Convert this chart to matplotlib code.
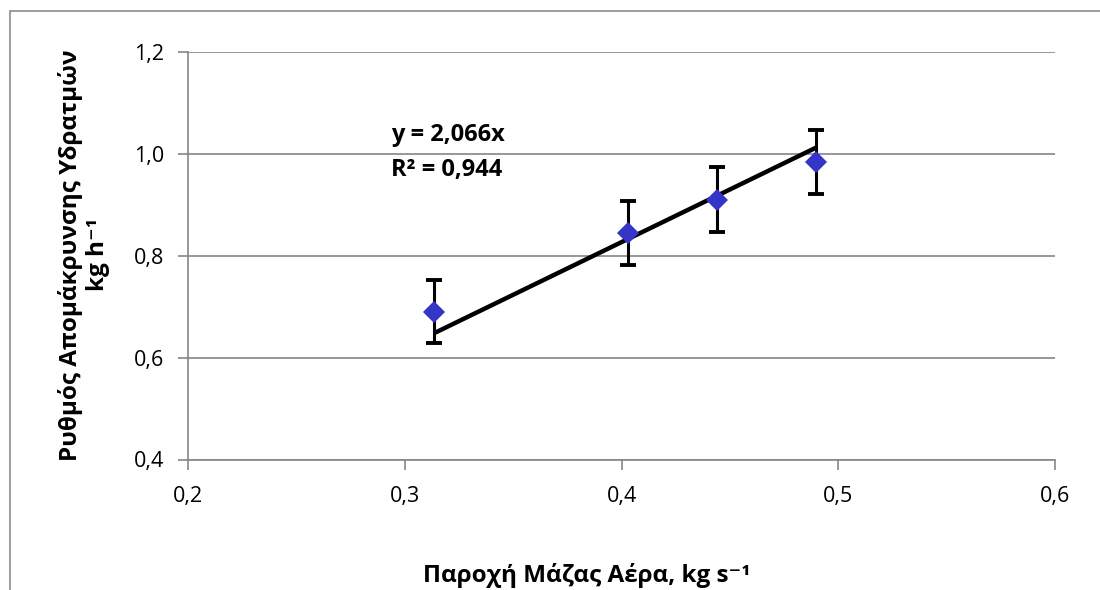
import matplotlib
matplotlib.use('Agg')
import matplotlib.pyplot as plt
import matplotlib.patches as patches
from matplotlib.ticker import FuncFormatter
import numpy as np

plt.rcParams['font.family'] = ['Open Sans', 'DejaVu Sans']

# data
air_flow = [0.3137, 0.403, 0.444, 0.4897]      # kg/s
removal_rate = [0.690, 0.845, 0.910, 0.983]     # kg/h
err = [0.062, 0.0625, 0.063, 0.063]
slope = 2.066
r2 = 0.944

x_ticks = [0.2, 0.3, 0.4, 0.5, 0.6]
y_ticks = [0.4, 0.6, 0.8, 1.0, 1.2]

W, H = 1100, 590
fig = plt.figure(figsize=(W / 100, H / 100), dpi=100)
ax = fig.add_axes([188 / W, 1 - 459.5 / H, (1055 - 188) / W, (459.5 - 51.7) / H])

grid_col = '#868686'

# chart area frame
fig.patches.append(patches.Rectangle((10 / W, -0.1), 1.2, 1 - 11 / H + 0.1,
                                     transform=fig.transFigure, fill=False,
                                     edgecolor='#8c8c8c', linewidth=1.2))

ax.set_xlim(0.2, 0.6)
ax.set_ylim(0.4, 1.2)
ax.set_xticks(x_ticks)
ax.set_yticks(y_ticks)
fmt = FuncFormatter(lambda v, p: f"{v:.1f}".replace('.', ','))
ax.xaxis.set_major_formatter(fmt)
ax.yaxis.set_major_formatter(fmt)

for s in ['top', 'right']:
    ax.spines[s].set_visible(False)
for s in ['left', 'bottom']:
    ax.spines[s].set_color(grid_col)
    ax.spines[s].set_linewidth(1.2)
ax.tick_params(axis='both', colors=grid_col, labelcolor='black', labelsize=15.5,
               width=1.2, length=7, direction='out')
ax.tick_params(axis='x', pad=12)
ax.tick_params(axis='y', pad=10)
ax.grid(axis='y', color=grid_col, linewidth=1.2)
ax.set_axisbelow(True)

# trend line through origin
xs = np.array([min(air_flow), max(air_flow)])
ax.plot(xs, slope * xs, color='black', linewidth=3.2, zorder=3, solid_capstyle='butt')

ax.errorbar(air_flow, removal_rate, yerr=err, fmt='none', ecolor='black',
            elinewidth=2.2, capsize=6, capthick=2.8, zorder=4)
ax.plot(air_flow, removal_rate, linestyle='none', marker='D', markersize=11.5,
        color='#3535c8', markeredgewidth=0, zorder=5)

eq = f"y = {slope:.3f}x".replace('.', ',')
rr = f"R² = {r2:.3f}".replace('.', ',')
fig.text(391 / W, 1 - 135 / H, eq, fontsize=17, fontweight='bold', ha='left', va='center')
fig.text(391 / W, 1 - 170 / H, rr, fontsize=17, fontweight='bold', ha='left', va='center')

fig.text(587 / W, 1 - 576 / H, 'Παροχή Μάζας Αέρα, kg s⁻¹', fontsize=17.5,
         fontweight='bold', ha='center', va='center')
fig.text(84 / W, 1 - 255 / H, 'Ρυθμός Απομάκρυνσης Υδρατμών\nkg h⁻¹', fontsize=17.5,
         fontweight='bold', ha='center', va='center', rotation=90,
         multialignment='center', linespacing=1.2)

fig.savefig('out.png', dpi=100)
